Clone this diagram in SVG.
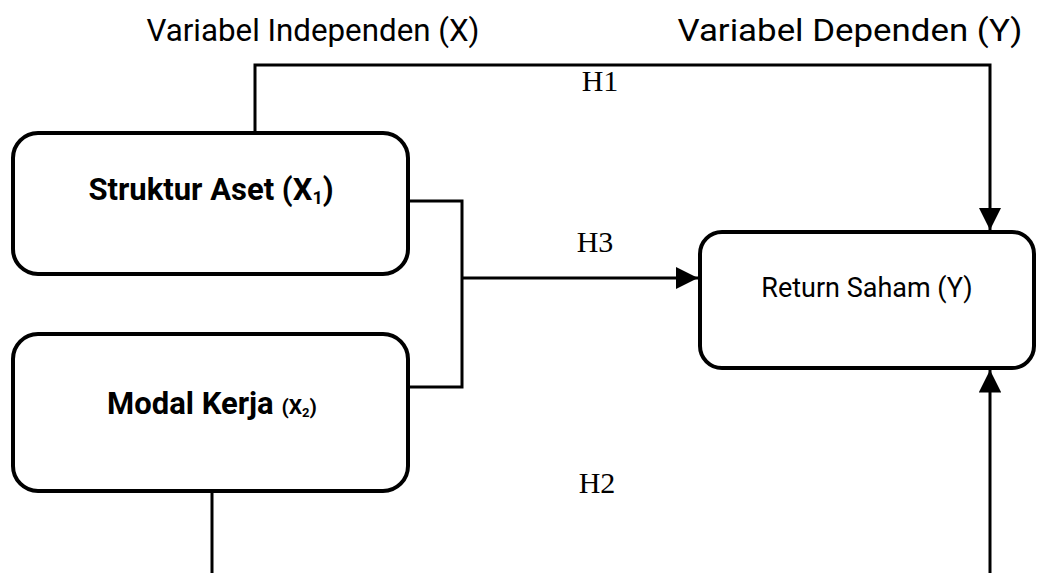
<svg xmlns="http://www.w3.org/2000/svg" width="1037" height="573" viewBox="0 0 1037 573">
<defs>
<style>
.box{fill:#fff;stroke:#000;stroke-width:4}
.ln{fill:none;stroke:#000;stroke-width:3}
.hdr{font-family:Roboto,"Liberation Sans",Arial,sans-serif;font-size:32px;fill:#000}
.lbl{font-family:"Liberation Serif","Times New Roman",serif;font-size:30px;fill:#000}
.nb{font-family:Roboto,"Liberation Sans",sans-serif;font-weight:bold;font-size:31px;fill:#000}
.nr{font-family:Roboto,"Liberation Sans",sans-serif;font-size:27px;fill:#000}
</style>
<marker id="ah" viewBox="0 0 10 10" refX="10" refY="5" markerWidth="7.5" markerHeight="7.5" markerUnits="strokeWidth" orient="auto">
<path d="M0,0 L10,5 L0,10 z" fill="#000"/>
</marker>
</defs>
<rect width="1037" height="573" fill="#fff"/>
<text class="hdr" x="313" y="41" text-anchor="middle" textLength="333" lengthAdjust="spacingAndGlyphs">Variabel Independen (X)</text>
<text class="hdr" x="850" y="41" text-anchor="middle" textLength="345" lengthAdjust="spacingAndGlyphs">Variabel Dependen (Y)</text>
<g id="connectors">
<path class="ln" d="M255,133 V65 H990 V230" marker-end="url(#ah)"/>
<path class="ln" d="M408,201 H462 V387 H408"/>
<path class="ln" d="M462,278 H698" marker-end="url(#ah)"/>
<path class="ln" d="M212,491 V573"/>
<path class="ln" d="M990,573 V370" marker-end="url(#ah)"/>
<text class="lbl" x="600" y="91" text-anchor="middle">H1</text>
<text class="lbl" x="595" y="252" text-anchor="middle">H3</text>
<text class="lbl" x="597" y="493" text-anchor="middle">H2</text>
</g>
<g id="node-struktur">
<rect class="box" x="13" y="133" width="395" height="141" rx="25"/>
<text class="nb" x="211" y="200" text-anchor="middle">Struktur Aset (X<tspan font-size="18" dy="4">1</tspan><tspan dy="-4">)</tspan></text>
</g>
<g id="node-modal">
<rect class="box" x="13" y="334" width="395" height="157" rx="25"/>
<text class="nb" x="212" y="414" text-anchor="middle">Modal Kerja <tspan font-size="21">(X<tspan font-size="13" dy="3">2</tspan><tspan dy="-3">)</tspan></tspan></text>
</g>
<g id="node-return">
<rect class="box" x="700" y="232" width="334" height="136" rx="22"/>
<text class="nr" x="867" y="297" text-anchor="middle">Return Saham (Y)</text>
</g>
</svg>
